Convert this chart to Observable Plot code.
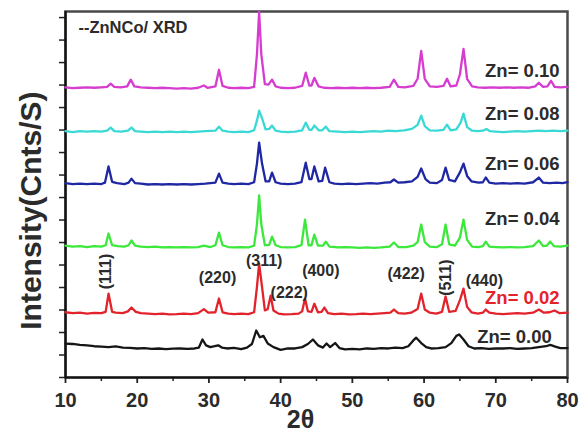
<!DOCTYPE html>
<html><head><meta charset="utf-8">
<script src="https://cdn.jsdelivr.net/npm/d3@7"></script>
<script src="https://cdn.jsdelivr.net/npm/@observablehq/plot@0.6"></script>
<style>body{margin:0;background:#fff}#chart svg{display:block}</style>
</head><body><div id="chart"></div>
<script>
// ---- data ----
const compositions = ["Zn= 0.00","Zn= 0.02","Zn= 0.04","Zn= 0.06","Zn= 0.08","Zn= 0.10"];
const offsets = [129, 284, 582, 862, 1093, 1288];

const zn000 = [[10,22],[11,20],[12,16],[13,14],[14,10],[15,8],[16,6],[17,9],[18,4],[19,3],[20,0],[21,2],[22,-2],[23,0],[24,-3],[25,-1],[26,0],[27,-2],[28,0],[28.6,4],[29.1,40],[29.6,14],[30.2,6],[30.8,10],[31.3,14],[31.8,4],[32.5,0],[33.5,3],[34.5,-3],[35.3,4],[36.0,20],[36.6,80],[37.1,50],[37.6,56],[38.2,22],[39,6],[40,-6],[41,0],[42,0],[43,6],[43.8,20],[44.5,40],[45.2,14],[45.9,4],[46.4,22],[46.9,6],[47.6,24],[48.2,2],[49,-4],[50,-2],[51,-4],[52,0],[53,-2],[54,2],[55,0],[56,4],[57,2],[57.8,10],[58.5,36],[58.9,48],[59.6,24],[60.3,6],[61,0],[62,2],[63,6],[63.8,24],[64.5,56],[64.9,62],[65.5,40],[66.2,10],[67,0],[68,2],[69,-2],[70,0],[71,0],[72,2],[73,-2],[74,0],[75,2],[76,6],[77,10],[77.6,16],[78.3,8],[79,2],[80,2]];
const zn002 = [[10,6],[11,2],[12,4],[13,0],[14,3],[15,2],[15.6,8],[16.0,89],[16.5,8],[17,4],[18,2],[18.7,10],[19.2,27],[19.8,8],[20.5,2],[21.5,0],[22.5,-2],[23.5,0],[24.5,-3],[25.5,-2],[26.5,0],[27.5,-2],[28.5,2],[29.3,20],[29.9,4],[30.9,6],[31.4,67],[31.9,6],[32.7,0],[33.5,-2],[34.5,0],[35.5,-2],[36.3,6],[36.7,120],[37.0,222],[37.4,120],[37.8,14],[38.2,20],[38.6,80],[39.0,14],[39.7,0],[40.5,-3],[41.5,-2],[42.5,0],[43.0,10],[43.4,67],[43.8,10],[44.3,8],[44.7,44],[45.2,6],[45.7,8],[46.1,27],[46.6,2],[47.5,-2],[48.5,0],[49.5,-3],[50.5,-2],[51.5,0],[52.5,-2],[53.5,0],[54.5,2],[55.3,4],[55.8,18],[56.4,2],[57.3,0],[58.2,4],[59.1,20],[59.6,89],[60.1,18],[60.8,4],[61.7,0],[62.5,8],[63.0,76],[63.5,8],[64.4,12],[65.0,60],[65.5,111],[66.0,30],[66.6,6],[67.5,0],[68.2,4],[68.6,18],[69.1,4],[70,0],[71,-2],[72,0],[73,2],[74,0],[75.2,4],[76,18],[76.7,4],[77.5,6],[78.2,14],[78.9,2],[80,4]];
const zn004 = [[10,4],[11,0],[12,2],[13,-2],[14,2],[15,0],[15.6,6],[16.0,58],[16.5,6],[17.3,2],[18.2,0],[18.8,6],[19.2,27],[19.7,4],[20.5,0],[21.5,-2],[22.5,0],[23.5,-4],[24.5,-2],[25.5,-4],[26.5,-2],[27.5,-4],[28.5,-2],[29.3,4],[30.2,-2],[30.9,6],[31.4,62],[31.9,6],[32.7,-2],[33.5,-4],[34.5,-2],[35.5,-4],[36.3,4],[36.7,100],[37.0,227],[37.3,100],[37.8,6],[38.4,8],[38.8,44],[39.3,6],[40,-2],[41,-4],[42,-2],[42.9,6],[43.4,120],[43.9,6],[44.3,6],[44.7,53],[45.2,4],[45.9,4],[46.3,22],[46.8,0],[48,-4],[49,-2],[50,-4],[51,-6],[52,-4],[53,-6],[54,-4],[55.2,0],[55.8,18],[56.4,-2],[57.5,-2],[58.5,4],[59.1,20],[59.6,98],[60.1,20],[60.8,0],[61.8,-2],[62.5,10],[63.0,98],[63.5,10],[64.3,4],[65.0,40],[65.5,120],[66.0,30],[66.7,0],[67.6,-2],[68.2,2],[68.6,22],[69.1,0],[70,-2],[71,-4],[72,-2],[73,-4],[74,-2],[75.2,2],[76,27],[76.6,2],[77.1,4],[77.6,22],[78.1,2],[79,0],[80,4]];
const zn006 = [[10,2],[11,-2],[12,0],[13,-2],[14,0],[15,-2],[15.5,4],[16.0,76],[16.5,8],[17.2,2],[18.2,-2],[18.8,4],[19.2,22],[19.7,2],[20.5,0],[21.5,-4],[22.5,-2],[23.5,-4],[24.5,-2],[25.5,-4],[26.5,-2],[27.5,-4],[28.5,-2],[29.5,0],[30.9,4],[31.4,44],[31.9,4],[32.7,0],[33.5,-2],[34.5,0],[35.5,-2],[36.3,6],[36.7,90],[37.0,182],[37.4,90],[37.9,10],[38.4,10],[38.8,49],[39.3,6],[40,0],[41,-2],[42,0],[42.9,6],[43.5,93],[44.0,20],[44.3,20],[44.7,76],[45.3,10],[45.8,12],[46.2,71],[46.8,6],[47.5,0],[48.5,-2],[49.5,0],[50.5,-2],[51.5,0],[52.5,2],[53.5,0],[54.5,4],[55.3,6],[55.8,18],[56.4,4],[57.3,6],[58.3,10],[59.1,30],[59.6,67],[60.2,20],[60.8,4],[61.8,2],[62.5,16],[63.0,71],[63.5,16],[64.3,10],[65.0,50],[65.5,89],[66.0,34],[66.6,10],[67.6,4],[68.2,6],[68.6,27],[69.1,4],[70,0],[71,2],[72,0],[73,2],[74,0],[75.2,6],[76,27],[76.6,4],[77.5,2],[78.5,4],[79.3,2],[80,6]];
const zn008 = [[10,2],[11,-2],[12,2],[13,0],[14,2],[15,0],[15.8,4],[16.3,18],[16.8,2],[17.8,0],[18.7,4],[19.2,18],[19.7,2],[20.5,0],[21.5,-2],[22.5,0],[23.5,-2],[24.5,0],[25.5,-2],[26.5,0],[27.5,-2],[28.5,0],[29.5,2],[30.9,4],[31.4,22],[31.9,4],[32.7,0],[33.5,-2],[34.5,0],[35.5,-2],[36.3,6],[36.7,50],[37.0,93],[37.4,60],[37.9,10],[38.4,12],[38.8,27],[39.3,4],[40,0],[41,-2],[42,0],[43.0,6],[43.5,40],[44.0,8],[44.3,8],[44.7,27],[45.3,6],[45.8,6],[46.3,22],[46.8,2],[48,0],[49,-2],[50,0],[51,-2],[52,0],[53,2],[54,0],[55,4],[56,2],[57.2,6],[58.3,12],[59.1,30],[59.6,71],[60.1,24],[60.8,6],[61.8,4],[62.7,8],[63.2,31],[63.7,6],[64.5,10],[65.1,40],[65.5,80],[66.0,20],[66.7,4],[67.5,2],[68.2,4],[68.7,12],[69.2,2],[70,0],[71,-2],[72,0],[73,2],[74,0],[75,2],[76,4],[77,2],[78,4],[79,2],[80,4]];
const zn010 = [[10,2],[11,-2],[12,0],[13,2],[14,0],[15,2],[15.8,4],[16.3,18],[16.8,4],[17.7,2],[18.6,6],[19.1,36],[19.6,6],[20.5,2],[21.5,0],[22.5,-2],[23.5,0],[24.5,-2],[25.5,-4],[26.5,-2],[27.5,-4],[28.5,0],[29.3,10],[29.8,0],[30.9,6],[31.4,80],[31.9,8],[32.7,0],[33.5,-2],[34.5,0],[35.5,-2],[36.3,4],[36.7,150],[37.0,338],[37.3,150],[37.8,16],[38.3,14],[38.8,36],[39.3,6],[40,0],[41,-2],[42,0],[43.0,8],[43.5,67],[44.0,10],[44.3,10],[44.7,44],[45.3,6],[46,0],[47,-2],[48,0],[49,-2],[50,0],[51,-2],[52,0],[53,-2],[54,0],[55.2,4],[55.8,36],[56.4,4],[57.3,2],[58.5,8],[59.1,40],[59.6,164],[60.1,40],[60.8,6],[61.8,4],[62.7,8],[63.2,40],[63.7,6],[64.5,10],[65.0,60],[65.5,173],[66.0,40],[66.7,6],[67.5,2],[68.5,0],[69.5,2],[70.5,0],[71.5,2],[72.5,0],[73.5,2],[74.5,0],[75.5,6],[76,22],[76.6,4],[77.2,6],[77.7,31],[78.2,4],[79,2],[80,4]];
const patterns = [zn000, zn002, zn004, zn006, zn008, zn010];

const hklLabels = ["(111)","(220)","(311)","(222)","(400)","(422)","(511)","(440)"];
const hklTheta  = [15.6, 31.2, 37.7, 41.2, 45.6, 57.5, 63.1, 68.4];
const hklLevel  = [471, 444, 520, 378, 475, 462, 444, 431];
const hklVertical = [true, false, false, false, false, false, true, false];

const seriesLabelTheta = [77.8, 78.9, 78.9, 78.9, 78.9, 78.9];
const seriesLabelLevel = [178, 355, 706, 950, 1172, 1363];

const xTicks = [10, 20, 30, 40, 50, 60, 70, 80];
const xMinorTicks = [15, 25, 35, 45, 55, 65, 75];
const yTicks = [0,100,200,300,400,500,600,700,800,900,1000,1100,1200,1300,1400,1500,1600];
const legendText = "--ZnNCo/ XRD";
const legendAt = [11.8, 1554];
const xTitle = "2θ";
const yTitle = "Intensity(Cnts/S)";
const yTitleAt = [5.3, 742];

// ---- styles ----
const lineColors = ["#151515","#e3232b","#3be83b","#1f27a3","#3ad9d6","#d63ccf"];
const textColor = "#2b2b2b";

const rows = patterns.flatMap((p, i) => p.map(([t, v]) => ({series: compositions[i], t, v: v + offsets[i]})));
const seriesLabels = compositions.map((c, i) => ({c, x: seriesLabelTheta[i], y: seriesLabelLevel[i]}));
const hkl = hklLabels.map((h, i) => ({h, x: hklTheta[i], y: hklLevel[i], vert: hklVertical[i]}));

const chart = Plot.plot({
  width: 581, height: 439,
  marginLeft: 65, marginRight: 14, marginTop: 11, marginBottom: 62,
  style: {fontFamily: "'Liberation Sans', Arial, sans-serif", background: "#fff", color: "#222"},
  x: {domain: [10, 80]},
  y: {domain: [0, 1627]},
  color: {domain: compositions, range: lineColors},
  marks: [
    Plot.frame({stroke: "#4a4a4a", strokeWidth: 2.5}),
    Plot.axisX({ticks: xMinorTicks, tickSize: 4, tickFormat: () => "", label: null, strokeWidth: 1.5}),
    Plot.axisX({ticks: xTicks, tickSize: 6, tickPadding: 9, fontSize: 20, fontWeight: "bold", label: null, strokeWidth: 1.8, fill: "#2b2b2b"}),
    Plot.axisY({ticks: yTicks, tickSize: 6, tickFormat: () => "", label: null, strokeWidth: 1.5}),
    Plot.ruleY([0], {stroke: "#111", strokeWidth: 2.2}),
    Plot.ruleX([10], {stroke: "#111", strokeWidth: 2.2}),
    Plot.line(rows, {x: "t", y: "v", z: "series", stroke: "series", strokeWidth: 2.3, strokeLinejoin: "round"}),
    Plot.text(seriesLabels, {x: "x", y: "y", text: "c", textAnchor: "end", fontSize: 18.5, fontWeight: "bold",
      fill: d => d.c === "Zn= 0.02" ? "#e3232b" : textColor}),
    Plot.text(hkl.filter(d => !d.vert), {x: "x", y: "y", text: "h", fontSize: 16, fontWeight: "bold", fill: textColor}),
    Plot.text(hkl.filter(d => d.vert), {x: "x", y: "y", text: "h", fontSize: 16, fontWeight: "bold", fill: textColor, rotate: -90}),
    Plot.text([legendText], {x: () => legendAt[0], y: () => legendAt[1], text: d => d, textAnchor: "start", fontSize: 16.5, fontWeight: "bold", fill: textColor}),
    Plot.text([yTitle], {x: () => yTitleAt[0], y: () => yTitleAt[1], rotate: -90, text: d => d, fontSize: 30, fontWeight: "bold", fill: textColor}),
    Plot.text([xTitle], {frameAnchor: "bottom", dx: -16, dy: 50, text: d => d, fontSize: 25, fontWeight: "bold", fill: textColor})
  ]
});
document.getElementById("chart").appendChild(chart);
</script>
</body></html>
